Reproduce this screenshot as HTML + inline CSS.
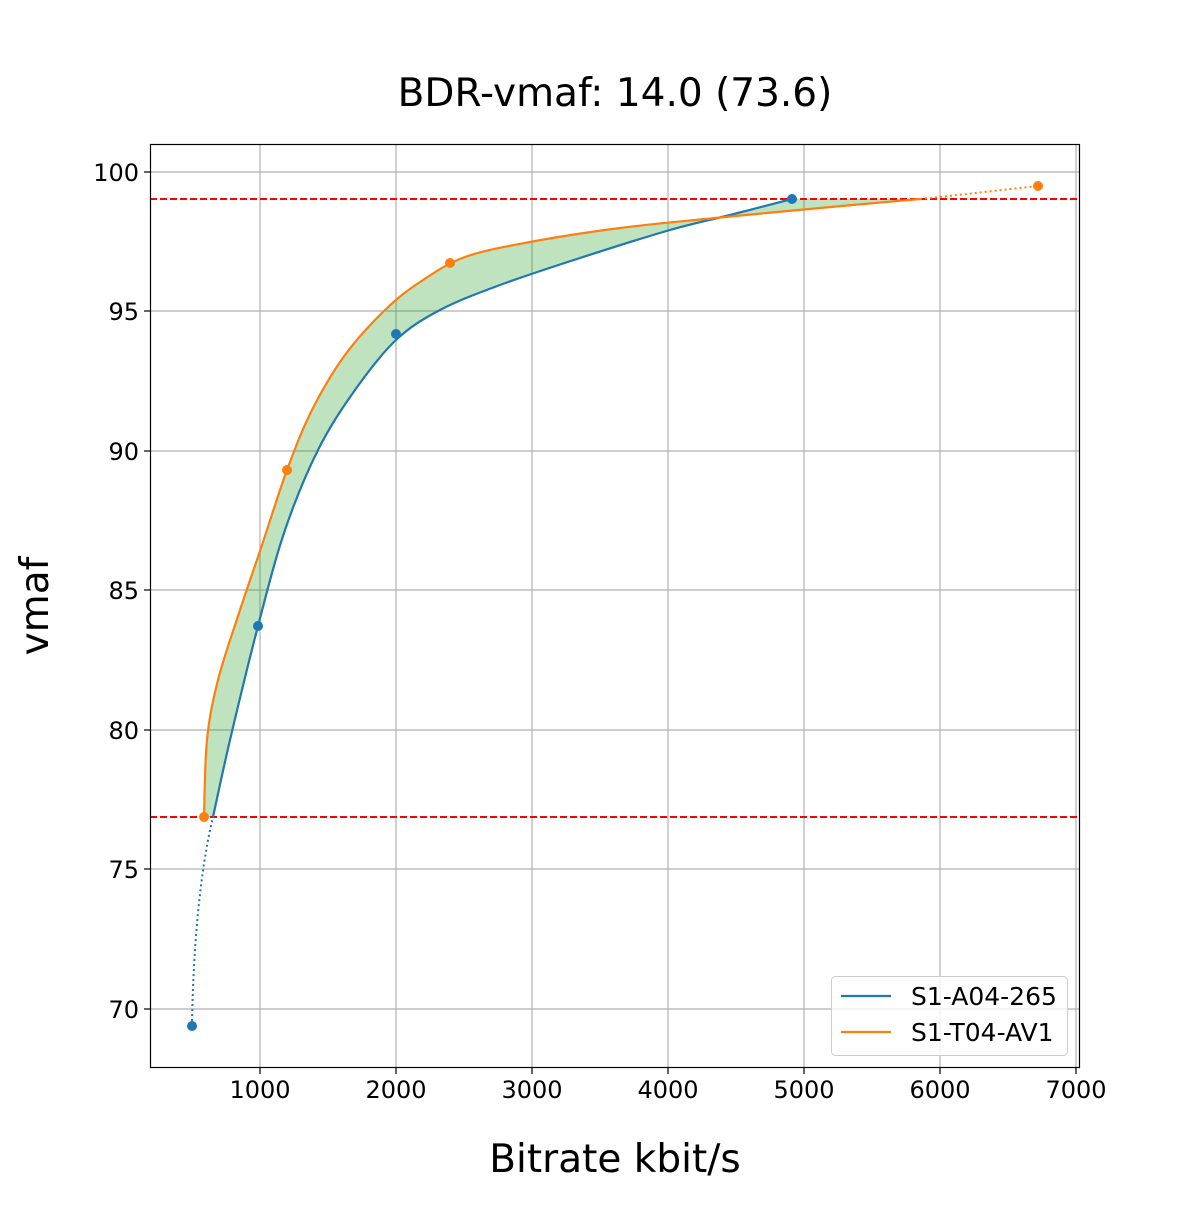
<!DOCTYPE html>
<html><head><meta charset="utf-8"><style>body{margin:0;background:#fff}</style></head><body>
<svg width="1200" height="1200" xmlns="http://www.w3.org/2000/svg" font-family="DejaVu Sans, sans-serif">
<rect width="1200" height="1200" fill="#fff"/>
<text x="615" y="106" font-size="39" text-anchor="middle">BDR-vmaf: 14.0 (73.6)</text>
<g stroke="#b0b0b0" stroke-width="1.2">
<line x1="260" y1="144" x2="260" y2="1068"/><line x1="396" y1="144" x2="396" y2="1068"/><line x1="532" y1="144" x2="532" y2="1068"/><line x1="668" y1="144" x2="668" y2="1068"/><line x1="804" y1="144" x2="804" y2="1068"/><line x1="940" y1="144" x2="940" y2="1068"/><line x1="1076" y1="144" x2="1076" y2="1068"/>
<line x1="150" y1="172" x2="1080" y2="172"/><line x1="150" y1="311" x2="1080" y2="311"/><line x1="150" y1="451" x2="1080" y2="451"/><line x1="150" y1="590" x2="1080" y2="590"/><line x1="150" y1="730" x2="1080" y2="730"/><line x1="150" y1="869" x2="1080" y2="869"/><line x1="150" y1="1009" x2="1080" y2="1009"/>
</g>
<path id="fill" fill="#2ca02c" fill-opacity="0.3" d=""/>
<g stroke="#ff0000" stroke-width="2" stroke-dasharray="7,3"><line x1="150" y1="199" x2="1080" y2="199"/><line x1="150" y1="817" x2="1080" y2="817"/></g>
<path d="M192,1026 C193,950 200,870 213,817" fill="none" stroke="#1f77b4" stroke-width="2" stroke-dasharray="2,3"/>
<path d="M920,199 C960,195 1000,190 1038,186" fill="none" stroke="#ff7f0e" stroke-width="2" stroke-dasharray="2,3"/>
<path id="bl" fill="none" stroke="#1f77b4" stroke-width="2.2" d=""/>
<path id="or" fill="none" stroke="#ff7f0e" stroke-width="2.2" d=""/>
<g fill="#1f77b4"><circle cx="192" cy="1026" r="5"/><circle cx="258" cy="626" r="5"/><circle cx="396" cy="334" r="5"/><circle cx="792" cy="199" r="5"/></g>
<g fill="#ff7f0e"><circle cx="204" cy="817" r="5"/><circle cx="287" cy="470" r="5"/><circle cx="450" cy="263" r="5"/><circle cx="1038" cy="186" r="5"/></g>
<rect x="150.5" y="144.5" width="929" height="923" fill="none" stroke="#000" stroke-width="1.2"/>
<g stroke="#000" stroke-width="1.2">
<line x1="260" y1="1068" x2="260" y2="1074"/><line x1="396" y1="1068" x2="396" y2="1074"/><line x1="532" y1="1068" x2="532" y2="1074"/><line x1="668" y1="1068" x2="668" y2="1074"/><line x1="804" y1="1068" x2="804" y2="1074"/><line x1="940" y1="1068" x2="940" y2="1074"/><line x1="1076" y1="1068" x2="1076" y2="1074"/>
<line x1="144" y1="172" x2="150" y2="172"/><line x1="144" y1="311" x2="150" y2="311"/><line x1="144" y1="451" x2="150" y2="451"/><line x1="144" y1="590" x2="150" y2="590"/><line x1="144" y1="730" x2="150" y2="730"/><line x1="144" y1="869" x2="150" y2="869"/><line x1="144" y1="1009" x2="150" y2="1009"/>
</g>
<g font-size="24" text-anchor="middle">
<text x="260" y="1098">1000</text><text x="396" y="1098">2000</text><text x="532" y="1098">3000</text><text x="668" y="1098">4000</text><text x="804" y="1098">5000</text><text x="940" y="1098">6000</text><text x="1076" y="1098">7000</text>
</g>
<g font-size="24" text-anchor="end">
<text x="139" y="181">100</text><text x="139" y="320">95</text><text x="139" y="460">90</text><text x="139" y="599">85</text><text x="139" y="739">80</text><text x="139" y="878">75</text><text x="139" y="1018">70</text>
</g>
<text x="615" y="1172" font-size="39" text-anchor="middle">Bitrate kbit/s</text>
<text transform="translate(48,606) rotate(-90)" font-size="39" text-anchor="middle">vmaf</text>
<rect x="831.5" y="976.5" width="236" height="79" rx="4" fill="#fff" fill-opacity="0.8" stroke="#ccc"/>
<line x1="841" y1="996" x2="891" y2="996" stroke="#1f77b4" stroke-width="2.2"/>
<line x1="841" y1="1032" x2="891" y2="1032" stroke="#ff7f0e" stroke-width="2.2"/>
<g font-size="25"><text x="911" y="1005">S1-A04-265</text><text x="911" y="1041">S1-T04-AV1</text></g>
</svg>
<script>
function cr(p){var d="";for(var i=0;i<p.length-1;i++){var p0=p[i-1]||p[i],p1=p[i],p2=p[i+1],p3=p[i+2]||p2;
var c1=[p1[0]+(p2[0]-p0[0])/6,p1[1]+(p2[1]-p0[1])/6],c2=[p2[0]-(p3[0]-p1[0])/6,p2[1]-(p3[1]-p1[1])/6];
d+=(i?"":"M"+p1[0]+","+p1[1])+" C"+c1+" "+c2+" "+p2;}return d;}
var B=[[213,817],[230,740],[258,626],[285,530],[318,450],[355,390],[396,340],[440,310],[500,285],[580,258],[670,230],[730,215],[792,199]];
var O=[[204,817],[207,740],[218,680],[240,610],[262,545],[287,470],[312,410],[345,355],[385,310],[420,282],[465,257],[530,242],[620,228],[715,218],[820,208],[920,199]];
document.getElementById("bl").setAttribute("d",cr(B));
document.getElementById("or").setAttribute("d",cr(O));
var Br=B.slice().reverse();
document.getElementById("fill").setAttribute("d",cr(O)+" L792,199 "+cr(Br).replace("M","L")+" Z");
</script>
</body></html>
